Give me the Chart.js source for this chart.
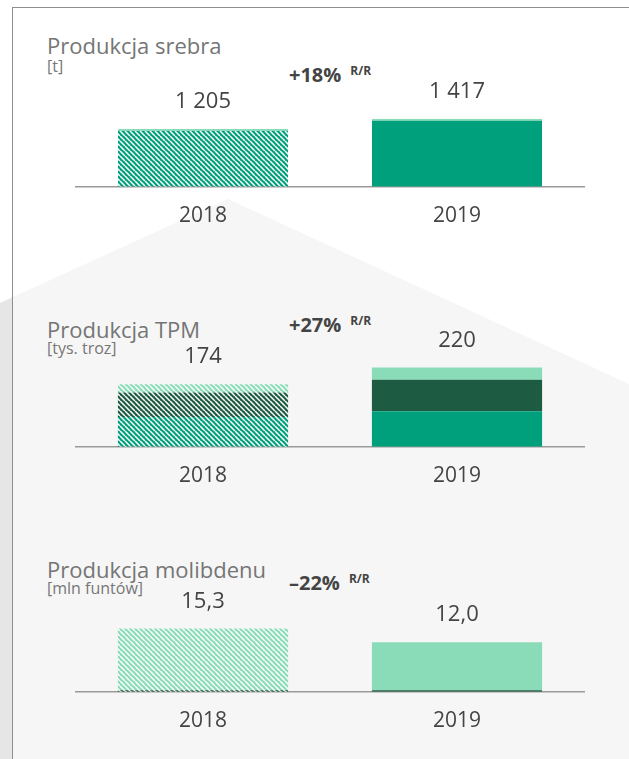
<!DOCTYPE html>
<html lang="pl">
<head>
<meta charset="utf-8">
<script src="https://cdn.jsdelivr.net/npm/chart.js@4.4.1/dist/chart.umd.min.js"></script>
<style>
  html, body { margin: 0; padding: 0; background: #fff; }
  #page { position: relative; width: 629px; height: 759px; overflow: hidden; font-family: 'Open Sans', sans-serif; }
  .bg { position: absolute; left: 0; top: 0; width: 629px; height: 759px; }
  #outer { background: #e6e6e6; clip-path: polygon(0 303px, 228px 198px, 629px 383px, 629px 759px, 0 759px); }
  #inner { left: 12px; top: 7px; width: 617px; height: 752px; background: #fff;
           border-left: 1.5px solid #8e8e8e; border-top: 1.5px solid #8e8e8e; box-sizing: border-box; }
  #shade { background: #f6f6f6; clip-path: polygon(13px 297px, 228px 199px, 629px 384px, 629px 759px, 13px 759px); }
  canvas { position: absolute; left: 0; }
  .title { position: absolute; left: 47px; font-size: 22px; font-weight: 400; color: #757575; line-height: 1; white-space: nowrap; }
  .unit { position: absolute; left: 47px; font-size: 16px; font-weight: 400; color: #777; line-height: 1; white-space: nowrap; }
  .chg { position: absolute; left: 289px; font-size: 20px; font-weight: 700; color: #444; line-height: 1; white-space: nowrap; }
  .chg sup { font-size: 12px; margin-left: 9px; vertical-align: 7px; }
</style>
</head>
<body>
<div id="page">
  <div class="bg" id="outer"></div>
  <div class="bg" id="inner"></div>
  <div class="bg" id="shade"></div>

  <div class="title" style="top:34px">Produkcja srebra</div>
  <div class="unit" style="top:58px">[t]</div>
  <div class="chg" style="top:65px">+18%<sup>R/R</sup></div>
  <canvas id="c1" width="629" height="190" style="top:56px"></canvas>

  <div class="title" style="top:318px">Produkcja TPM</div>
  <div class="unit" style="top:340px">[tys. troz]</div>
  <div class="chg" style="top:315px">+27%<sup>R/R</sup></div>
  <canvas id="c2" width="629" height="190" style="top:316px"></canvas>

  <div class="title" style="top:558px">Produkcja molibdenu</div>
  <div class="unit" style="top:580px">[mln funtów]</div>
  <div class="chg" style="top:573px">–22%<sup>R/R</sup></div>
  <canvas id="c3" width="629" height="190" style="top:561px"></canvas>
</div>

<script>
// years on the x axis
const years = ['2018', '2019'];

// silver production [t]
const silver = [1205, 1417];

// precious metals [thousand troz], three stacked parts
const tpmLow = [83, 99];
const tpmMid = [68, 87];
const tpmTop = [23, 34];

// molybdenum [mln lbs], two stacked parts
const molyLow = [0.4, 0.4];
const molyTop = [14.9, 11.6];

const GREEN = '#00a07d';
const DARK = '#1d5c42';
const LIGHT = '#8adbb7';

// diagonal white stripes over a colour, used for the 2018 bars
function hatch(color) {
  const s = 5;
  const c = document.createElement('canvas');
  c.width = s; c.height = s;
  const g = c.getContext('2d');
  g.fillStyle = color;
  g.fillRect(0, 0, s, s);
  g.strokeStyle = '#fff';
  g.lineWidth = 1.5;
  g.beginPath();
  for (let k = -1; k <= 1; k++) {
    g.moveTo(k * s, 0);
    g.lineTo(k * s + s, s);
  }
  g.stroke();
  return g.createPattern(c, 'repeat');
}

function fmt(v, dec) {
  let s = v.toFixed(dec);
  let [a, b] = s.split('.');
  a = a.replace(/\B(?=(\d{3})+(?!\d))/g, ' ');
  return b ? a + ',' + b : a;
}

// total of each stack written above the bar
const totalsPlugin = {
  id: 'totals',
  afterDatasetsDraw(chart, args, opts) {
    const ctx = chart.ctx;
    const y = chart.scales.y;
    const x = chart.scales.x;
    ctx.save();
    ctx.font = '22px "Open Sans"';
    ctx.fillStyle = '#444';
    ctx.textAlign = 'center';
    ctx.textBaseline = 'middle';
    years.forEach((yr, i) => {
      let tot = 0;
      chart.data.datasets.forEach(ds => { tot += ds.data[i]; });
      ctx.fillText(fmt(tot, opts.dec), x.getPixelForValue(i), y.getPixelForValue(tot) - 27);
    });
    ctx.restore();
  }
};

function ds(data, color, border) {
  return {
    data: data,
    backgroundColor: [hatch(color), color],
    borderColor: border || color,
    borderWidth: border ? { top: 2 } : 0,
    borderSkipped: false,
    barPercentage: 0.67,
    categoryPercentage: 1
  };
}

function makeChart(id, datasets, yMax, dec) {
  return new Chart(document.getElementById(id), {
    type: 'bar',
    data: { labels: years, datasets: datasets },
    plugins: [totalsPlugin],
    options: {
      responsive: false,
      animation: false,
      layout: { padding: { left: 76, right: 45, top: 30, bottom: 0 } },
      plugins: { legend: { display: false }, tooltip: { enabled: false }, totals: { dec: dec } },
      scales: {
        x: {
          stacked: true,
          grid: { display: false, drawTicks: false },
          border: { color: '#9a9a9a', width: 1.5 },
          ticks: { color: '#444', font: { family: 'Open Sans', size: 21 }, padding: 17 }
        },
        y: { stacked: true, display: false, min: 0, max: yMax }
      }
    }
  });
}

makeChart('c1', [ds(silver, GREEN, LIGHT)], 2100, 0);
makeChart('c2', [ds(tpmLow, GREEN), ds(tpmMid, DARK), ds(tpmTop, LIGHT)], 280, 0);
makeChart('c3', [ds(molyLow, DARK), ds(molyTop, LIGHT)], 24.4, 1);
</script>
</body>
</html>
